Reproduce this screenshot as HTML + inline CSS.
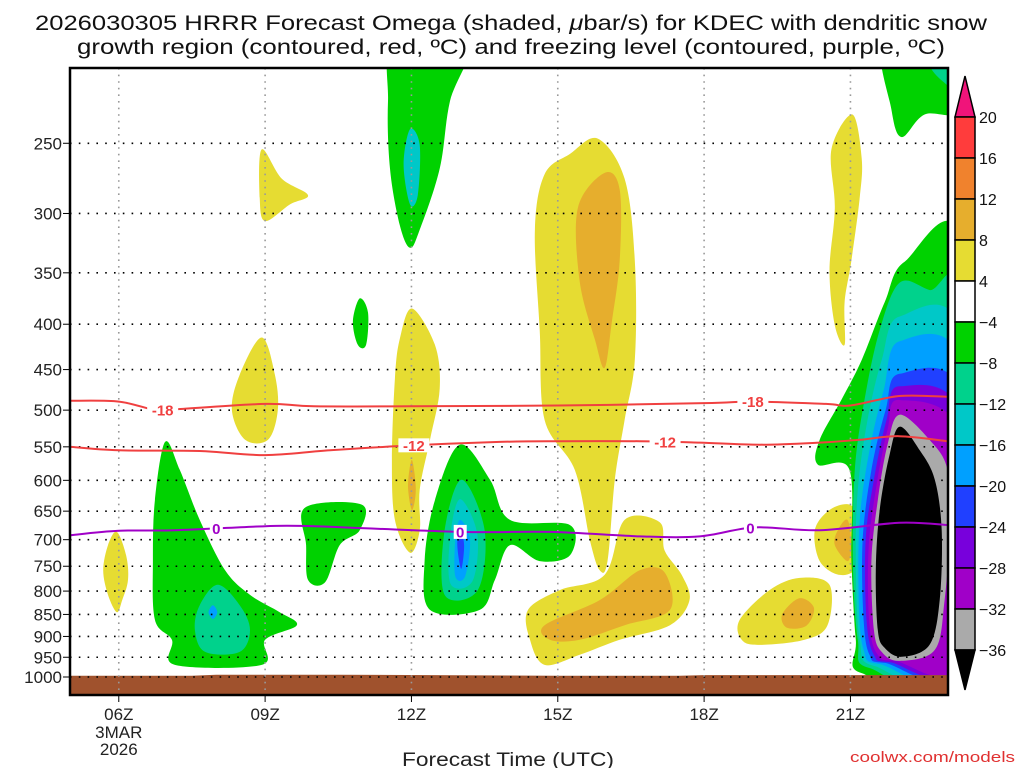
<!DOCTYPE html>
<html><head><meta charset="utf-8"><style>
html,body{margin:0;padding:0;background:#fff;}
svg{display:block;font-family:"Liberation Sans",sans-serif;}
</style></head><body>
<svg id="chart" width="1024" height="768" viewBox="0 0 1024 768" xmlns="http://www.w3.org/2000/svg">
<defs><clipPath id="plotclip"><rect x="70" y="68" width="878" height="627"/></clipPath></defs>
<g font-size="21" fill="#111">
<text x="35" y="30" textLength="952" lengthAdjust="spacingAndGlyphs">2026030305 HRRR Forecast Omega (shaded, <tspan font-style="italic">μ</tspan>bar/s) for KDEC with dendritic snow</text>
<text x="77" y="54" textLength="868" lengthAdjust="spacingAndGlyphs">growth region (contoured, red, ºC) and freezing level (contoured, purple, ºC)</text>
</g>
<g id="shading" clip-path="url(#plotclip)"></g>
<g id="ground"></g>
<g id="grid"></g>
<g id="contours" clip-path="url(#plotclip)"></g>
<rect x="70" y="68" width="878" height="627" fill="none" stroke="#000" stroke-width="2.5"/>
<g id="yaxis" font-size="17" fill="#222"></g>
<g id="xaxis" font-size="17" fill="#222"></g>
<text x="508" y="766" text-anchor="middle" font-size="19" fill="#222" textLength="212" lengthAdjust="spacingAndGlyphs">Forecast Time (UTC)</text>
<text x="1015" y="762" text-anchor="end" font-size="15" fill="#e03030" textLength="165" lengthAdjust="spacingAndGlyphs">coolwx.com/models</text>
<g id="colorbar" font-size="16" fill="#111"></g>
</svg>
<script>
const NS="http://www.w3.org/2000/svg";
// axis domains
const hourMin=5, hourMax=23;
const pressureTicks=[250,300,350,400,450,500,550,600,650,700,750,800,850,900,950,1000];
const hourTicks=[6,9,12,15,18,21];
const hourTickLabels=["06Z","09Z","12Z","15Z","18Z","21Z"];
const levelBounds=[20,16,12,8,4,-4,-8,-12,-16,-20,-24,-28,-32,-36];
const levelLabels=["20","16","12","8","4","−4","−8","−12","−16","−20","−24","−28","−32","−36"];
const levelColors=["#ff3c3c","#f0822d","#e6ae2d","#e6dc32","#ffffff","#00d200","#00d28c","#00c8c8","#00a0ff","#2040ff","#7800dc","#a000c8","#aaaaaa"];
const topColor="#f0147a", bottomColor="#000000";

// omega regions: [hour, hPa] polygons with level (fill color)
const yellow1=[[5.96,686],[6.15,729],[6.19,777],[6.07,819],[5.96,845],[5.78,808],[5.68,758],[5.78,710]];
const green2=[[6.95,543],[7.25,584],[7.66,665],[8.18,758],[8.69,808],[9.3,845],[9.65,874],[9.0,908],[8.93,969],[7.15,969],[7.09,908],[6.74,862],[6.7,740],[6.74,632]];
const teal2=[[8.03,787],[8.48,830],[8.69,885],[8.48,937],[7.77,937],[7.56,885],[7.66,830]];
const lb2=[[7.93,830],[8.02,845],[7.93,860],[7.84,845]];
const yellow3=[[8.93,254],[9.34,274],[9.88,286],[9.51,293],[9.0,306],[8.89,288]];
const yellow4=[[8.93,414],[9.2,456],[9.26,500],[9.06,540],[8.59,540],[8.32,500],[8.48,456]];
const green5=[[10.94,374],[11.11,388],[11.07,422],[10.9,422],[10.8,397]];
const green6=[[9.82,644],[10.98,639],[10.94,683],[10.53,710],[10.23,782],[9.88,777],[9.84,710]];
const green7=[[11.66,190],[13.2,190],[12.79,224],[12.58,267],[12.17,313],[11.97,328],[11.76,309],[11.56,267],[11.52,224]];
const teal7=[[11.97,241],[12.17,251],[12.13,286],[11.97,293],[11.84,264]];
const yellow8=[[12.01,384],[12.48,422],[12.58,473],[12.38,540],[12.17,615],[12.17,683],[11.97,724],[11.66,665],[11.6,569],[11.66,461],[11.76,416]];
const orange8=[[12.01,569],[12.09,615],[12.01,648],[11.93,608]];
const green9=[[12.99,547],[13.61,599],[14.02,665],[15.25,674],[15.25,729],[14.63,740],[14.02,710],[13.71,777],[13.4,840],[12.38,840],[12.27,740],[12.48,632]];
const teal9=[[13.03,599],[13.5,683],[13.36,798],[12.68,808],[12.68,683]];
const cyan9=[[13.0,630],[13.35,690],[13.25,780],[12.8,785],[12.8,690]];
const lb9=[[13.0,665],[13.2,700],[13.1,770],[12.9,770],[12.9,700]];
const blue9=[[13.0,680],[13.08,710],[13.02,755],[12.94,710]];
const yellow10=[[15.82,247],[16.37,274],[16.58,339],[16.58,439],[16.37,513],[16.17,599],[16.02,740],[15.86,758],[15.66,702],[15.35,584],[14.73,513],[14.63,406],[14.53,313],[14.73,271],[15.25,257]];
const orange10=[[15.96,270],[16.27,282],[16.27,339],[16.11,397],[15.96,448],[15.76,416],[15.45,358],[15.41,296]];
const yellow11=[[14.39,840],[15.04,798],[15.96,767],[16.37,665],[17.09,669],[17.19,720],[17.54,767],[17.7,819],[17.3,874],[16.27,908],[15.45,944],[14.73,969],[14.43,908]];
const orange11=[[14.73,874],[15.86,819],[16.68,758],[17.19,762],[17.3,840],[16.37,874],[15.45,908],[14.84,908]];
const yellow12=[[18.73,862],[19.34,798],[19.96,773],[20.57,787],[20.53,874],[20.06,908],[19.14,920],[18.77,908]];
const orange12=[[19.6,850],[19.95,815],[20.25,835],[20.1,875],[19.7,880]];
const yellow13=[[21.04,232],[21.23,260],[21.19,288],[21.02,339],[20.88,378],[20.88,422],[20.68,401],[20.57,348],[20.68,296],[20.61,254]];
const yellow14=[[20.98,639],[21.15,665],[21.13,748],[20.78,767],[20.37,740],[20.27,683],[20.57,648]];
const orange14=[[20.94,665],[21.02,710],[20.94,740],[20.68,710],[20.74,683]];
const green15=[[21.7,190],[23.3,190],[23.3,229],[22.52,232],[22.05,246],[21.84,229]];
const teal15=[[22.6,190],[23.3,190],[23.3,218],[22.9,213],[22.6,203]];
const green16=[[22.11,340],[21.7,378],[21.23,439],[20.82,486],[20.37,540],[20.33,576],[20.98,584],[21.02,740],[21.11,908],[21.23,990],[23.3,990],[23.3,330]];
const teal16=[[22.01,359],[21.6,406],[21.29,486],[21.09,584],[21.05,740],[21.15,908],[21.39,977],[23.3,977],[23.3,378],[22.62,366]];
const cyan16=[[22.01,392],[21.64,439],[21.35,513],[21.15,615],[21.11,740],[21.19,908],[21.5,972],[23.3,972],[23.3,416]];
const lb16=[[22.01,418],[21.68,475],[21.39,555],[21.19,665],[21.17,819],[21.27,932],[21.6,967],[23.3,967],[23.3,450]];
const blue16=[[22.01,455],[21.72,500],[21.43,584],[21.25,702],[21.27,862],[21.39,944],[21.7,964],[23.3,964],[23.3,486]];
const indigo16=[[22.01,470],[21.74,513],[21.48,599],[21.31,702],[21.33,862],[21.48,944],[21.8,962],[23.3,962],[23.3,513]];
const purple16=[[22.01,487],[21.76,526],[21.52,615],[21.37,720],[21.39,874],[21.56,944],[21.91,959],[23.3,959],[23.3,540]];
const gray16=[[22.01,506],[21.76,547],[21.56,632],[21.43,740],[21.48,885],[21.64,937],[22.01,959],[22.73,932],[22.93,819],[23.03,683],[22.99,584],[22.62,540]];
const black16=[[22.01,522],[21.8,562],[21.6,648],[21.52,758],[21.56,885],[21.7,927],[22.05,949],[22.62,920],[22.83,819],[22.87,683],[22.73,599],[22.42,555]];
const regions=[
 ["yellow",yellow1],["green",green2],["teal",teal2],["lightblue",lb2],["yellow",yellow3],["yellow",yellow4],
 ["green",green5],["green",green6],["green",green7],["cyan",teal7],["yellow",yellow8],["orange",orange8],
 ["green",green9],["teal",teal9],["cyan",cyan9],["lightblue",lb9],["blue",blue9],
 ["yellow",yellow10],["orange",orange10],["yellow",yellow11],["orange",orange11],["yellow",yellow12],["orange",orange12],
 ["yellow",yellow13],["yellow",yellow14],["orange",orange14],["green",green15],["teal",teal15],
 ["green",green16],["teal",teal16],["cyan",cyan16],["lightblue",lb16],["blue",blue16],["indigo",indigo16],["purple",purple16],["gray",gray16],["black",black16]];
const regionColors={yellow:"#e6dc32",orange:"#e6ae2d",green:"#00d200",teal:"#00d28c",cyan:"#00c8c8",lightblue:"#00a0ff",blue:"#2040ff",indigo:"#7800dc",purple:"#a000c8",gray:"#aaaaaa",black:"#000000"};

// contour lines
const red18Hours=[5,6,6.75,7.15,9,10,12,15,18,19,20.5,21,22,23];
const red18Press=[488,489,500,499,492,495,495,494,491,489,492,494,482,483];
const red12Hours=[5,6,7.66,9,10.33,12,13.81,15.04,16.68,17.91,19.14,20.37,21.19,22,23];
const red12Press=[550,555,556,562,555,548,543,542,542,544,547,544,540,535,542];
const frzHours=[5,6,7.15,9,10.02,13,14.84,16.68,17.91,19.04,20.37,22,23];
const frzPress=[692,684,683,676,676,686,686,694,694,678,683,670,674];
const red18Labels=[6.9,19.0];
const red12Labels=[12.05,17.2];
const frzLabels=[8.0,13.0,18.95];
// ground (surface pressure) by hour
const groundHours=[5,7.5,8,10.5,15,17.5,18,23];
const groundPress=[997,997,994,994,997,997,995,995];

function X(h){return 70+(h-hourMin)*(878/(hourMax-hourMin));}
function Y(p){return 677-385*Math.log(1000/p);}
function el(tag,attrs,parent){const e=document.createElementNS(NS,tag);for(const k in attrs)e.setAttribute(k,attrs[k]);parent.appendChild(e);return e;}
function smoothClosed(pts){
 const n=pts.length;let d=`M${pts[0][0].toFixed(1)},${pts[0][1].toFixed(1)}`;
 for(let i=0;i<n;i++){const p0=pts[(i-1+n)%n],p1=pts[i],p2=pts[(i+1)%n],p3=pts[(i+2)%n];
  const c1=[p1[0]+(p2[0]-p0[0])/6,p1[1]+(p2[1]-p0[1])/6],c2=[p2[0]-(p3[0]-p1[0])/6,p2[1]-(p3[1]-p1[1])/6];
  d+=`C${c1[0].toFixed(1)},${c1[1].toFixed(1)} ${c2[0].toFixed(1)},${c2[1].toFixed(1)} ${p2[0].toFixed(1)},${p2[1].toFixed(1)}`;}
 return d+"Z";}
function smoothOpen(pts){
 let d=`M${pts[0][0].toFixed(1)},${pts[0][1].toFixed(1)}`;const n=pts.length;
 for(let i=0;i<n-1;i++){const p0=pts[Math.max(i-1,0)],p1=pts[i],p2=pts[i+1],p3=pts[Math.min(i+2,n-1)];
  const c1=[p1[0]+(p2[0]-p0[0])/6,p1[1]+(p2[1]-p0[1])/6],c2=[p2[0]-(p3[0]-p1[0])/6,p2[1]-(p3[1]-p1[1])/6];
  d+=`C${c1[0].toFixed(1)},${c1[1].toFixed(1)} ${c2[0].toFixed(1)},${c2[1].toFixed(1)} ${p2[0].toFixed(1)},${p2[1].toFixed(1)}`;}
 return d;}
function interp(hs,ps,h){for(let i=0;i<hs.length-1;i++){if(h>=hs[i]&&h<=hs[i+1]){const t=(h-hs[i])/(hs[i+1]-hs[i]);return ps[i]+t*(ps[i+1]-ps[i]);}}return ps[ps.length-1];}

// shading
const shading=document.getElementById("shading");
regions.forEach((r,i)=>{
 const pts=r[1].map(q=>[X(q[0]),Y(q[1])]);
 const path=el("path",{d:smoothClosed(pts),fill:regionColors[r[0]]},shading);
 
 
});

// ground
const ground=document.getElementById("ground");
{let d=`M70,695`;groundHours.forEach((h,i)=>{d+=`L${X(h).toFixed(1)},${Y(groundPress[i]).toFixed(1)}`;});d+=`L948,695Z`;
 const g=el("path",{d:d,fill:"#a0522d"},ground);
 
 }

// grid
const grid=document.getElementById("grid");
pressureTicks.forEach(p=>{const l=el("line",{x1:70,x2:948,y1:Y(p),y2:Y(p),stroke:"#000","stroke-width":1.6,"stroke-dasharray":"1.6 7.2"},grid);
 
 });
hourTicks.forEach(h=>{const l=el("line",{x1:X(h),x2:X(h),y1:68,y2:695,stroke:"#999","stroke-width":1.6,"stroke-dasharray":"1.6 5"},grid);
 
 });

// contours
const cont=document.getElementById("contours");
function drawContour(hs,ps,color,name,labels,text){
 const pts=hs.map((h,i)=>[X(h),Y(ps[i])]);
 const path=el("path",{d:smoothOpen(pts),fill:"none",stroke:color,"stroke-width":2},cont);
 
 
 labels.forEach(h=>{const x=X(h),y=Y(interp(hs,ps,h));
  const w=text.length*9+4;
  const bg=el("rect",{x:x-w/2,y:y-7,width:w,height:14,fill:"#fff"},cont);
  
  
  const t=el("text",{x:x,y:y+5.5,"text-anchor":"middle","font-size":15,"font-weight":"bold",fill:color},cont);
  t.textContent=text;
  
  });
}
drawContour(red18Hours,red18Press,"#f04040","contour-minus18",red18Labels,"-18");
drawContour(red12Hours,red12Press,"#f04040","contour-minus12",red12Labels,"-12");
drawContour(frzHours,frzPress,"#a000c8","freezing-level-contour",frzLabels,"0");

// y axis
const ya=document.getElementById("yaxis");
pressureTicks.forEach(p=>{const t=el("text",{x:62,y:Y(p)+6,"text-anchor":"end"},ya);t.textContent=String(p);
 
 
 const tk=el("line",{x1:63,x2:70,y1:Y(p),y2:Y(p),stroke:"#000","stroke-width":1},ya);
 
 });

// x axis
const xa=document.getElementById("xaxis");
hourTicks.forEach((h,i)=>{const t=el("text",{x:X(h),y:720,"text-anchor":"middle"},xa);t.textContent=hourTickLabels[i];
 
 
 const tk=el("line",{x1:X(h),x2:X(h),y1:695,y2:702,stroke:"#000","stroke-width":1},xa);
 
 });
{const t1=el("text",{x:X(6),y:738,"text-anchor":"middle"},xa);t1.textContent="3MAR";
 
 
 const t2=el("text",{x:X(6),y:755,"text-anchor":"middle"},xa);t2.textContent="2026";
 
 }

// colorbar
const cb=document.getElementById("colorbar");
const cbX=955,cbW=20,cbTop=117,cbStep=41;
{const tri=el("path",{d:`M${cbX},${cbTop}L${cbX+cbW/2},76L${cbX+cbW},${cbTop}Z`,fill:topColor,stroke:"#000","stroke-width":1.5},cb);
 
 }
levelColors.forEach((c,i)=>{const r=el("rect",{x:cbX,y:cbTop+i*cbStep,width:cbW,height:cbStep,fill:c,stroke:"#000","stroke-width":1.5},cb);
 
 });
{const yb=cbTop+levelColors.length*cbStep;
 const tri=el("path",{d:`M${cbX},${yb}L${cbX+cbW/2},690L${cbX+cbW},${yb}Z`,fill:bottomColor,stroke:"#000","stroke-width":1.5},cb);
 
 }
levelBounds.forEach((v,i)=>{const t=el("text",{x:979,y:cbTop+i*cbStep+6},cb);t.textContent=levelLabels[i];
 
 });
</script>
</body></html>
